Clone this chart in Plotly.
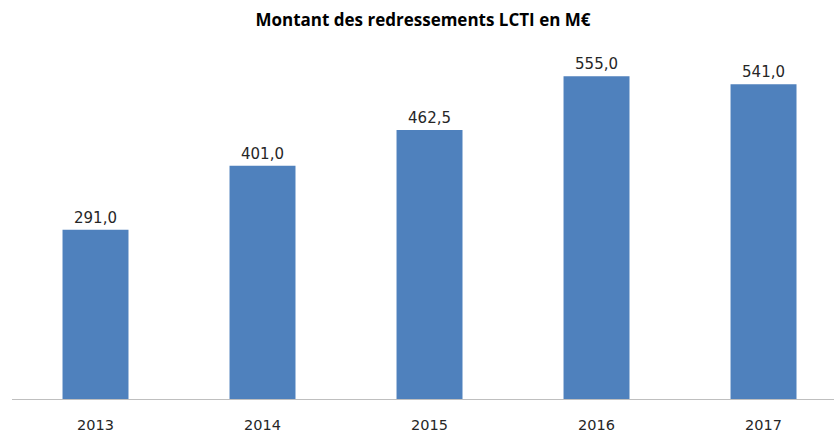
import plotly.graph_objects as go

years = ["2013", "2014", "2015", "2016", "2017"]
montants = [291.0, 401.0, 462.5, 555.0, 541.0]

fig = go.Figure(
    go.Bar(
        x=years,
        y=montants,
        marker=dict(color="#4F81BD", line=dict(width=0)),
        texttemplate="%{y:.1f}",
        textposition="outside",
        cliponaxis=False,
        textfont=dict(family="DejaVu Sans, sans-serif", size=15, color="#262626"),
        hoverinfo="skip",
    )
)

fig.update_layout(
    width=834,
    height=433,
    margin=dict(l=12, r=0, t=50, b=25),
    paper_bgcolor="white",
    plot_bgcolor="white",
    separators=", ",
    bargap=0.605,
    showlegend=False,
    title=dict(
        text="<b>Montant des redressements LCTI en M€</b>",
        x=0.5,
        xref="paper",
        y=1 - 20 / 433,
        yanchor="middle",
        font=dict(family="Open Sans, sans-serif", size=17, color="#000000"),
    ),
    xaxis=dict(
        type="category",
        range=[-0.5, 4.422],
        showline=True,
        linecolor="#BFBFBF",
        linewidth=1,
        ticks="",
        showgrid=False,
        tickfont=dict(family="DejaVu Sans, sans-serif", size=14.5, color="#262626"),
        ticklabelstandoff=13,
    ),
    yaxis=dict(
        range=[0, 600],
        visible=False,
        showgrid=False,
        zeroline=False,
    ),
)

fig.write_html("out.html")
